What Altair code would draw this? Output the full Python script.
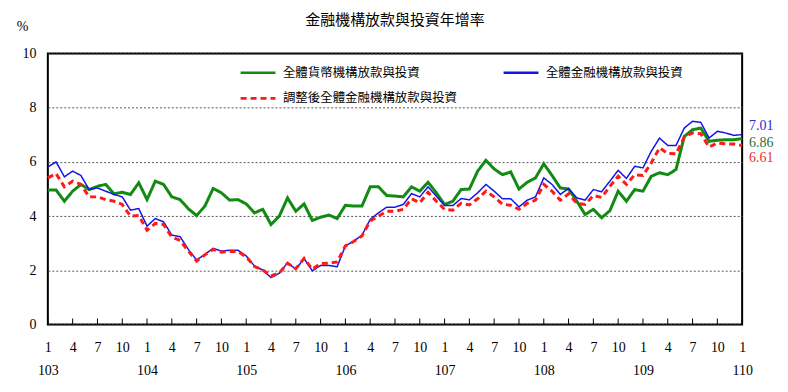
import altair as alt
import pandas as pd

series_names = ["全體貨幣機構放款與投資", "全體金融機構放款與投資", "調整後全體金融機構放款與投資"]

green = [4.96, 4.96, 4.55, 4.92, 5.17, 4.98, 5.10, 5.17, 4.82, 4.88, 4.80, 5.23,
         4.61, 5.29, 5.17, 4.71, 4.61, 4.27, 4.02, 4.37, 5.02, 4.86, 4.59, 4.61,
         4.45, 4.12, 4.25, 3.69, 4.00, 4.67, 4.18, 4.45, 3.84, 3.96, 4.04, 3.91,
         4.40, 4.37, 4.37, 5.08, 5.08, 4.76, 4.74, 4.71, 5.08, 4.92, 5.25, 4.86,
         4.43, 4.55, 4.98, 5.00, 5.66, 6.06, 5.74, 5.53, 5.63, 5.00, 5.25, 5.41,
         5.93, 5.50, 5.04, 5.00, 4.55, 4.06, 4.25, 3.94, 4.20, 4.92, 4.55, 4.98,
         4.92, 5.47, 5.60, 5.53, 5.72, 6.94, 7.19, 7.25, 6.76, 6.80, 6.82, 6.82,
         6.86]

blue = [5.82, 6.00, 5.45, 5.66, 5.50, 4.98, 5.04, 4.92, 4.80, 4.71, 4.22, 4.28,
        3.63, 3.91, 3.79, 3.30, 3.24, 2.77, 2.38, 2.59, 2.81, 2.71, 2.74, 2.74,
        2.53, 2.16, 2.01, 1.73, 1.89, 2.28, 2.04, 2.43, 1.98, 2.18, 2.18, 2.13,
        2.90, 3.08, 3.29, 3.88, 4.12, 4.33, 4.33, 4.43, 4.83, 4.71, 5.08, 4.74,
        4.39, 4.39, 4.65, 4.60, 4.86, 5.17, 4.92, 4.64, 4.64, 4.34, 4.59, 4.71,
        5.41, 5.17, 4.80, 5.02, 4.67, 4.59, 4.98, 4.90, 5.29, 5.69, 5.39, 5.84,
        5.78, 6.39, 6.88, 6.61, 6.61, 7.25, 7.50, 7.46, 6.88, 7.13, 7.07, 6.98,
        7.01]

red = [5.41, 5.57, 5.08, 5.29, 5.17, 4.71, 4.71, 4.61, 4.55, 4.43, 4.00, 4.02,
       3.48, 3.73, 3.69, 3.23, 3.10, 2.71, 2.34, 2.57, 2.77, 2.67, 2.69, 2.69,
       2.50, 2.14, 2.01, 1.79, 1.90, 2.26, 2.06, 2.44, 2.04, 2.25, 2.26, 2.31,
       2.90, 3.06, 3.27, 3.82, 4.00, 4.18, 4.18, 4.25, 4.64, 4.49, 4.88, 4.55,
       4.25, 4.22, 4.47, 4.41, 4.64, 4.92, 4.71, 4.44, 4.40, 4.25, 4.47, 4.59,
       5.17, 4.92, 4.59, 4.82, 4.47, 4.43, 4.76, 4.69, 5.10, 5.47, 5.17, 5.53,
       5.50, 5.96, 6.52, 6.31, 6.30, 6.92, 7.07, 7.04, 6.55, 6.70, 6.67, 6.66,
       6.61]

line_colors = ["#138a13", "#1515e6", "#ff1a1a"]
end_labels = ["6.86", "7.01", "6.61"]
end_colors = ["#2c6e3c", "#2a2ad0", "#e53333"]
end_dy = [4, -9, 13]
tick_idx = list(range(0, 85, 3))
# legend lays entries out column by column
legend_order = [series_names[0], series_names[2], series_names[1]]

rows = []
for name, vals in zip(series_names, [green, blue, red]):
    for i, v in enumerate(vals):
        rows.append({"i": i, "v": v, "series": name})
df = pd.DataFrame(rows)

W, H = 697, 272
serif = "Liberation Serif"
cjk = "Noto Sans CJK TC"

xscale = alt.Scale(domain=[0, 84], nice=False, zero=False)
yscale = alt.Scale(domain=[0, 10], nice=False)

label_expr = ("datum.value % 12 == 0 ? [toString(datum.value % 12 + 1), "
              "toString(103 + floor(datum.value / 12))] : toString(datum.value % 12 + 1)")


def x_axis():
    return alt.Axis(values=tick_idx, labelExpr=label_expr, ticks=False, domain=False,
                    grid=False, labelFont=serif, labelFontSize=14, labelPadding=16,
                    labelLineHeight=23, title=None, labelColor="black",
                    labelOverlap=False, labelFlush=False, labelBound=False)


def y_axis():
    return alt.Axis(values=[0, 2, 4, 6, 8, 10], ticks=False, domain=False, grid=True,
                    gridColor="#555555", gridDash=[2, 2], gridWidth=1,
                    labelFont=serif, labelFontSize=14, labelPadding=12, labelColor="black",
                    labelOverlap=False,
                    title="%", titleAngle=0, titleX=-26, titleY=-27, titleFont=serif,
                    titleFontSize=14, titleFontWeight="normal", titleColor="black",
                    titleAlign="center", titleBaseline="middle")


def leg():
    return alt.Legend(title=None, values=legend_order)


lines = alt.Chart(df).mark_line().encode(
    x=alt.X("i:Q", scale=xscale, axis=x_axis()),
    y=alt.Y("v:Q", scale=yscale, axis=y_axis()),
    color=alt.Color("series:N", scale=alt.Scale(domain=series_names, range=line_colors),
                    legend=leg()),
    strokeDash=alt.StrokeDash("series:N",
                              scale=alt.Scale(domain=series_names, range=[[1, 0], [1, 0], [6, 4]]),
                              legend=leg()),
    strokeWidth=alt.condition(alt.datum.series == series_names[1], alt.value(1.5), alt.value(3)),
)

tick_df = pd.DataFrame({"i": tick_idx})
ticks = alt.Chart(tick_df).mark_rule(color="black", strokeWidth=1).encode(
    x=alt.X("i:Q", scale=xscale, axis=x_axis()),
    y=alt.value(H - 6),
    y2=alt.value(H),
)

texts = []
for name, lab, col, dy in zip(series_names, end_labels, end_colors, end_dy):
    d = pd.DataFrame({"i": [84], "v": [df[(df.series == name) & (df.i == 84)].v.iloc[0]],
                      "label": [lab]})
    t = alt.Chart(d).mark_text(align="left", baseline="middle", dx=7, dy=dy,
                               font=serif, fontSize=14, color=col).encode(
        x=alt.X("i:Q", scale=xscale, axis=x_axis()),
        y=alt.Y("v:Q", scale=yscale, axis=y_axis()),
        text="label:N",
    )
    texts.append(t)

chart = alt.layer(lines, ticks, *texts).properties(
    width=W, height=H,
    title=alt.Title("金融機構放款與投資年增率", font=cjk, fontSize=15,
                    fontWeight="normal", color="black", anchor="middle", offset=-15,
                    dy=8, baseline="bottom"),
    autosize=alt.AutoSizeParams(type="none"),
    padding={"left": 40, "top": 45, "right": 38, "bottom": 55},
    background="white",
).configure_view(stroke="black", strokeWidth=2).configure_legend(
    orient="none", legendX=192, legendY=0, columns=2, columnPadding=40, rowPadding=-9,
    symbolType="stroke", symbolSize=1225, labelFont=cjk, labelFontSize=12.5,
    labelOffset=6, labelColor="black", padding=0, labelLimit=400,
    symbolStrokeWidth=2.6,
)

chart.save("out.html", embed_options={"renderer": "svg", "actions": False})
